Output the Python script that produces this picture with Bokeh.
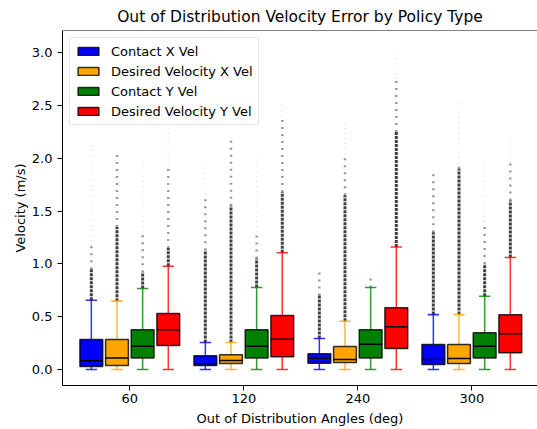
from bokeh.plotting import figure
from bokeh.models import Range1d, FixedTicker, Legend, LegendItem, PrintfTickFormatter, Span
from bokeh.embed import file_html
from bokeh.resources import INLINE

# ---- data ----
groups = ["60", "120", "240", "300"]
series_names = ["Contact X Vel", "Desired Velocity X Vel", "Contact Y Vel", "Desired Velocity Y Vel"]
series_colors = ["blue", "orange", "green", "red"]

contact_x_whislo = [0.0, 0.0, 0.0, 0.0]
contact_x_q1 = [0.028, 0.038, 0.060, 0.047]
contact_x_med = [0.082, 0.054, 0.107, 0.095]
contact_x_q3 = [0.284, 0.130, 0.148, 0.237]
contact_x_whishi = [0.656, 0.256, 0.294, 0.520]
contact_x_fl_dense = [0.95, 1.13, 0.70, 1.30]
contact_x_fl_sparse = [1.17, 1.62, 0.93, 1.88]
contact_x_fl_max = [2.14, 1.93, 0.93, 1.88]

desired_x_whislo = [0.0, 0.0, 0.0, 0.0]
desired_x_q1 = [0.038, 0.057, 0.066, 0.057]
desired_x_med = [0.110, 0.085, 0.095, 0.104]
desired_x_q3 = [0.284, 0.140, 0.218, 0.237]
desired_x_whishi = [0.647, 0.256, 0.457, 0.520]
desired_x_fl_dense = [1.35, 1.55, 1.65, 1.90]
desired_x_fl_sparse = [2.04, 2.20, 2.04, 1.95]
desired_x_fl_max = [2.04, 2.20, 2.37, 2.55]

contact_y_whislo = [0.0, 0.0, 0.0, 0.0]
contact_y_q1 = [0.110, 0.110, 0.110, 0.110]
contact_y_med = [0.220, 0.220, 0.240, 0.220]
contact_y_q3 = [0.376, 0.376, 0.376, 0.347]
contact_y_whishi = [0.767, 0.776, 0.776, 0.694]
contact_y_fl_dense = [0.92, 1.05, 0.776, 1.00]
contact_y_fl_sparse = [1.30, 1.30, 0.88, 1.40]
contact_y_fl_max = [2.00, 2.05, 0.88, 2.00]

desired_y_whislo = [0.0, 0.0, 0.0, 0.0]
desired_y_q1 = [0.227, 0.120, 0.200, 0.158]
desired_y_med = [0.376, 0.287, 0.404, 0.338]
desired_y_q3 = [0.530, 0.511, 0.584, 0.518]
desired_y_whishi = [0.978, 1.105, 1.160, 1.060]
desired_y_fl_dense = [1.15, 1.68, 2.25, 1.60]
desired_y_fl_sparse = [1.90, 2.40, 2.75, 1.96]
desired_y_fl_max = [2.34, 2.52, 3.00, 2.17]

y_ticks = [0.0, 0.5, 1.0, 1.5, 2.0, 2.5, 3.0]
x_axis_title = "Out of Distribution Angles (deg)"
y_axis_title = "Velocity (m/s)"

stats = [
    (contact_x_whislo, contact_x_q1, contact_x_med, contact_x_q3, contact_x_whishi,
     contact_x_fl_dense, contact_x_fl_sparse, contact_x_fl_max),
    (desired_x_whislo, desired_x_q1, desired_x_med, desired_x_q3, desired_x_whishi,
     desired_x_fl_dense, desired_x_fl_sparse, desired_x_fl_max),
    (contact_y_whislo, contact_y_q1, contact_y_med, contact_y_q3, contact_y_whishi,
     contact_y_fl_dense, contact_y_fl_sparse, contact_y_fl_max),
    (desired_y_whislo, desired_y_q1, desired_y_med, desired_y_q3, desired_y_whishi,
     desired_y_fl_dense, desired_y_fl_sparse, desired_y_fl_max),
]

FONT = "DejaVu Sans"
offsets = [-0.3375, -0.1125, 0.1125, 0.3375]
box_w = 0.2
cap_w = 0.1
X0, X1 = 0.4096, 4.576
Y0, Y1 = -0.1515, 3.21

p = figure(width=537, height=429, output_backend="svg", toolbar_location=None,
           x_range=Range1d(X0, X1), y_range=Range1d(Y0, Y1),
           title="Out of Distribution Velocity Error by Policy Type",
           min_border_left=62, min_border_right=0, min_border_top=30, min_border_bottom=44)
p.background_fill_color = "white"
p.border_fill_color = "white"
p.outline_line_color = None
p.xgrid.visible = False
p.ygrid.visible = False
# top spine (the right spine lies outside the picture in the reference)
p.add_layout(Span(location=Y1, dimension="width", line_color="black", line_width=1))

p.title.text_font = FONT
p.title.text_font_size = "15.5px"
p.title.text_font_style = "normal"
p.title.align = "center"
p.title.text_color = "black"

xpos = list(range(1, len(groups) + 1))
p.xaxis.ticker = FixedTicker(ticks=xpos)
p.xaxis.major_label_overrides = {i: g for i, g in zip(xpos, groups)}
p.yaxis.ticker = FixedTicker(ticks=y_ticks)
p.yaxis.formatter = PrintfTickFormatter(format="%.1f")
p.xaxis.axis_label = x_axis_title
p.yaxis.axis_label = y_axis_title
for ax in (p.xaxis[0], p.yaxis[0]):
    ax.axis_label_text_font = FONT
    ax.axis_label_text_font_size = "13px"
    ax.axis_label_text_font_style = "normal"
    ax.major_label_text_font = FONT
    ax.major_label_text_font_size = "13px"
    ax.major_tick_in = 0
    ax.major_tick_out = 5
    ax.minor_tick_out = 0
    ax.minor_tick_in = 0
    ax.axis_line_color = "black"
    ax.major_tick_line_color = "black"
    ax.major_label_text_color = "black"
    ax.axis_label_text_color = "black"
p.xaxis.major_label_standoff = 3
p.yaxis.major_label_standoff = 5
p.xaxis.axis_label_standoff = 5
p.yaxis.axis_label_standoff = 1

legend_items = []
for k, (name, color, st) in enumerate(zip(series_names, series_colors, stats)):
    lo, q1, med, q3, hi, fd, fs, fm = st
    xs = [x + offsets[k] for x in xpos]
    # fliers (drawn as dense / sparse / faint columns)
    p.segment(x0=xs, x1=xs, y0=hi, y1=fd, line_color="black", line_alpha=0.75, line_width=3,
              line_dash="3 1")
    p.segment(x0=xs, x1=xs, y0=fd, y1=fs, line_color="black", line_alpha=0.4, line_width=2.5,
              line_dash="2 5")
    p.segment(x0=xs, x1=xs, y0=fs, y1=fm, line_color="black", line_alpha=0.12, line_width=1.5,
              line_dash="1 4")
    # whiskers
    p.segment(x0=xs, x1=xs, y0=q3, y1=hi, line_color=color, line_alpha=0.8, line_width=1.5)
    p.segment(x0=xs, x1=xs, y0=lo, y1=q1, line_color=color, line_alpha=0.8, line_width=1.5)
    # caps
    p.segment(x0=[x - cap_w / 2 for x in xs], x1=[x + cap_w / 2 for x in xs], y0=hi, y1=hi,
              line_color=color, line_alpha=0.8, line_width=1.6)
    p.segment(x0=[x - cap_w / 2 for x in xs], x1=[x + cap_w / 2 for x in xs], y0=lo, y1=lo,
              line_color=color, line_alpha=0.8, line_width=1.6)
    # boxes
    r = p.quad(left=[x - box_w / 2 for x in xs], right=[x + box_w / 2 for x in xs],
               bottom=q1, top=q3, fill_color=color, line_color="black", line_width=1.5,
               line_alpha=0.8)
    # medians
    p.segment(x0=[x - box_w / 2 for x in xs], x1=[x + box_w / 2 for x in xs], y0=med, y1=med,
              line_color="black", line_width=1.5)
    legend_items.append(LegendItem(label=name, renderers=[r]))

legend = Legend(items=legend_items, location="top_left")
legend.label_text_font = FONT
legend.label_text_font_size = "13px"
legend.label_text_color = "black"
legend.glyph_width = 26
legend.glyph_height = 10
legend.label_height = 16
legend.spacing = 4
legend.padding = 5
legend.margin = 7
legend.label_standoff = 10
legend.border_line_color = "#cccccc"
legend.border_line_width = 1
legend.background_fill_alpha = 0.8
p.add_layout(legend, "center")

open("out.html", "w").write(file_html(p, INLINE))
